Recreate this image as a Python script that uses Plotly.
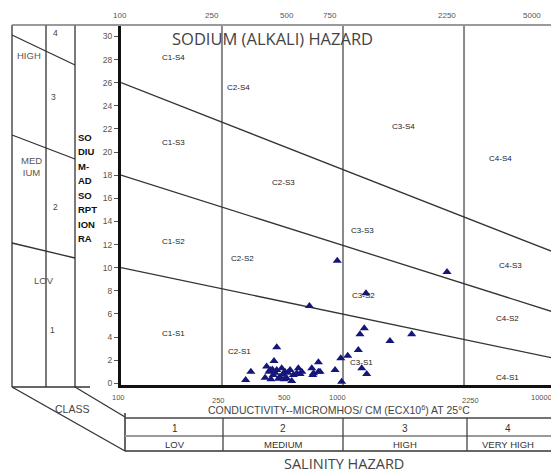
import math
import plotly.graph_objects as go

# ---------------- data ----------------
ec = [310, 325, 370, 375, 383, 387, 398, 401, 411, 411, 423, 430, 443, 450, 464, 471,
      478, 500, 508, 516, 565, 570, 574, 600, 600, 609, 698, 735, 741, 783, 553, 712,
      924, 910, 875, 1149, 1399, 862, 889, 930, 1928, 390, 405, 418, 435, 455, 440,
      395, 493]
sar = [0.29, 1.0, 0.48, 1.44, 1.0, 1.15, 0.72, 1.93, 3.11, 1.15, 0.57, 1.3, 1.0, 0.43,
       1.15, 0.2, 0.72, 1.3, 0.8, 1.0, 1.3, 0.72, 0.87, 1.82, 1.0, 1.0, 1.15, 2.16, 0.14,
       2.39, 6.69, 10.6, 7.79, 4.76, 4.24, 3.66, 4.24, 2.88, 1.3, 0.8, 9.63, 0.35, 0.9,
       0.4, 0.8, 0.9, 0.35, 1.2, 0.87]

class_bounds = [250, 750, 2250]           # salinity class boundaries (EC)
ec_min, ec_max = 100, 5000
sar_at_min = [10, 18, 26]                 # sodium boundaries at EC 100
sar_at_max = [2.2, 6.2, 11.4]             # sodium boundaries at EC 5000

y_ticks = list(range(0, 31, 2))
top_tick_labels = ["100", "250", "500", "750", "2250", "5000"]
bottom_tick_labels = ["100", "250", "500", "1000", "2250", "10000"]

region_labels = ["C1-S4", "C2-S4", "C3-S4", "C4-S4",
                 "C1-S3", "C2-S3", "C3-S3", "C4-S3",
                 "C1-S2", "C2-S2", "C3-S2", "C4-S2",
                 "C1-S1", "C2-S1", "C3-S1", "C4-S1"]

salinity_classes = ["1", "2", "3", "4"]
salinity_names = ["LOV", "MEDIUM", "HIGH", "VERY HIGH"]
sodium_classes = ["4", "3", "2", "1"]
sodium_names = ["HIGH", "MED<br>IUM", "LOV"]
sar_title_lines = ["SO", "DIU", "M-", "AD", "SO", "RPT", "ION", "RA"]

# ---------------- layout helpers ----------------
# the page body has an 8px margin, so the figure is shrunk by that amount
OFF = 8
W, H = 559, 473                      # reference picture size
L, R, T, B = 121, 7, 26, 88          # plot area in reference pixels
PW, PH = W - L - R, H - T - B


def X(px):
    return (px - L) / PW


def Y(py):
    return (H - B - py) / PH


FONT = "Liberation Sans"

fig = go.Figure()

# class boundary verticals
for c in class_bounds:
    fig.add_trace(go.Scatter(x=[c, c], y=[-0.15, 30.9], mode="lines",
                             line=dict(color="#8a8a8a", width=2),
                             hoverinfo="skip", showlegend=False))

# sodium hazard boundaries
for a, b in zip(sar_at_min, sar_at_max):
    fig.add_trace(go.Scatter(x=[ec_min, ec_max], y=[a, b], mode="lines",
                             line=dict(color="#333333", width=1.3),
                             hoverinfo="skip", showlegend=False))

# samples
fig.add_trace(go.Scatter(x=ec, y=sar, mode="markers",
                         marker=dict(symbol="triangle-up", size=8, color="#16167a"),
                         showlegend=False))

shapes = []


def seg(x0, y0, x1, y1, color="#333333", width=1.3):
    shapes.append(dict(type="line", xref="paper", yref="paper",
                       x0=X(x0), y0=Y(y0), x1=X(x1), y1=Y(y1),
                       line=dict(color=color, width=width), layer="above"))


# frame
seg(12, 25, 552, 25, "#9a9a9a", 2)
seg(552, 25, 552, 451, "#333333", 2)
# left panel
for xv in (12, 46, 75):
    seg(xv, 25, xv, 387, "#7a7a7a", 2)
seg(12, 387, 90, 387, "#333333", 1.5)
seg(12, 35, 75, 65)
seg(12, 135, 75, 159)
seg(12, 243, 75, 258)
# class wedge
seg(12, 387, 125, 451)
seg(75, 387, 125, 417)
# salinity table
seg(125, 413, 125, 451, "#333333", 1.5)
seg(125, 418, 552, 418, "#444444", 1.3)
seg(125, 436, 552, 436, "#9a9a9a", 2.2)
seg(125, 451, 552, 451, "#333333", 1.5)
for xv in (223, 343, 467):
    seg(xv, 418, xv, 451, "#444444", 1.3)

ann = []


def txt(px, py, s, size=8, color="#333333", bold=False, family=FONT, xanchor="center"):
    if bold:
        s = "<b>" + s + "</b>"
    ann.append(dict(x=X(px), y=Y(py), xref="paper", yref="paper", text=s,
                    showarrow=False, xanchor=xanchor, yanchor="middle",
                    font=dict(size=size, color=color, family=family)))


# titles
txt(272, 38, "SODIUM (ALKALI) HAZARD", 16.5, "#444444", family="Open Sans")
txt(344, 463, "SALINITY HAZARD", 14.5, "#444444", family="Open Sans")
txt(339, 409, "CONDUCTIVITY--MICROMHOS/ CM (ECX10<sup>6</sup>) AT 25°C", 10.5, "#444444")

# top tick labels
for lab, px in zip(top_tick_labels, [120, 212, 287, 330, 447, 532]):
    txt(px, 16, lab, 8, "#555555")
# bottom tick labels
for lab, px, py in zip(bottom_tick_labels, [118, 218, 284, 337, 470, 541],
                       [398, 400, 398, 398, 400, 397]):
    txt(px, py, lab, 7.5, "#555555")

# region labels
region_pos = [(173, 57), (238, 87), (403, 126), (500, 159),
              (173, 142), (283, 183), (362, 230), (510, 265),
              (173, 241), (242, 258), (363, 295), (507, 318),
              (173, 333), (239, 351), (361, 362), (507, 377)]
for lab, (px, py) in zip(region_labels, region_pos):
    txt(px, py, lab, 8, "#222222")

# salinity table text
for lab, name, px in zip(salinity_classes, salinity_names, [175, 283, 405, 508]):
    txt(px, 428, lab, 10, "#333333")
    txt(px, 444, name, 9.5, "#333333")
txt(72, 409, "CLASS", 10.5, "#444444")

# sodium side panel
for lab, (px, py) in zip(sodium_classes, [(55, 33), (53, 97), (55, 207), (52, 330)]):
    txt(px, py, lab, 8.5, "#444444")
for name, (px, py) in zip(sodium_names, [(29, 56), (31, 167), (44, 280)]):
    txt(px, py, name, 9.5, "#555555")
for i, s in enumerate(sar_title_lines):
    txt(76, 137 + i * 14.5, s, 9.5, "#111111", bold=True, xanchor="left")

fig.update_layout(
    width=W - OFF, height=H - OFF,
    margin=dict(l=L - OFF, r=R, t=T - OFF, b=B),
    paper_bgcolor="white", plot_bgcolor="white",
    shapes=shapes, annotations=ann,
    font=dict(family=FONT),
    xaxis=dict(type="log", range=[math.log10(ec_min), math.log10(ec_max)],
               showgrid=False, zeroline=False, showticklabels=False, ticks="",
               showline=True, linewidth=3, linecolor="#111111"),
    yaxis=dict(range=[-0.15, 30.9], tickvals=y_ticks, ticks="outside", ticklen=4,
               tickcolor="#555555", tickfont=dict(size=8.5, color="#555555"),
               showgrid=False, zeroline=False, showline=True, linewidth=3,
               linecolor="#111111"),
)

fig.write_html("out.html")
